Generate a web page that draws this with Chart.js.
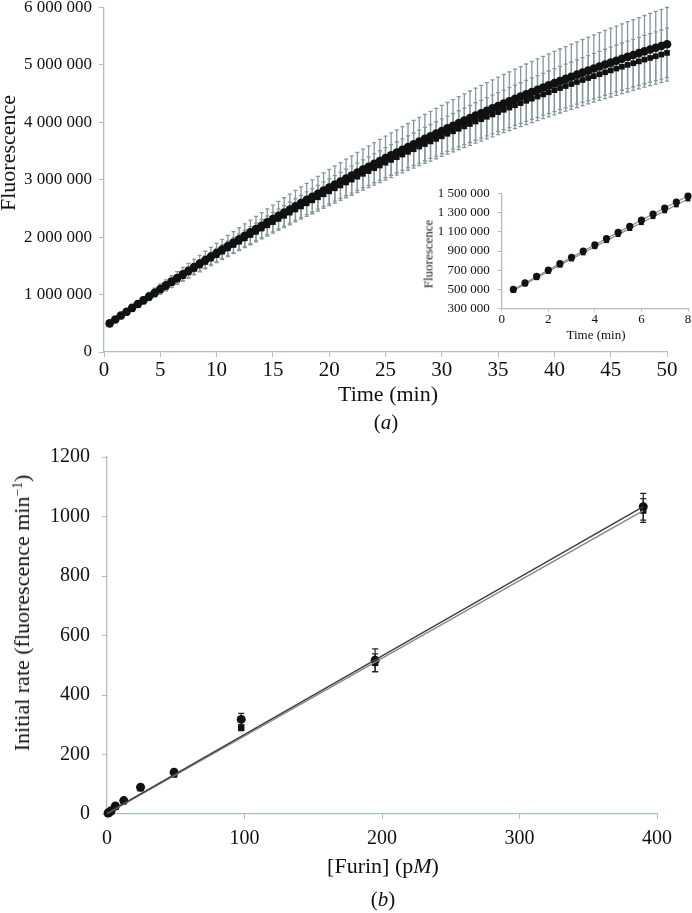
<!DOCTYPE html>
<html>
<head>
<meta charset="utf-8">
<script src="https://cdn.jsdelivr.net/npm/chart.js@4.4.1/dist/chart.umd.min.js"></script>
<style>
  html, body { margin: 0; padding: 0; background: #fff; }
  body { width: 692px; height: 913px; position: relative; overflow: hidden; font-family: "Liberation Serif", "Times New Roman", serif; color: #111; }
  canvas { position: absolute; }
  .lbl { position: absolute; white-space: nowrap; line-height: 1; transform: translate(-50%, -50%); }
  .rot { transform: translate(-50%, -50%) rotate(-90deg); }
  sup { font-size: 0.62em; vertical-align: 0.55em; line-height: 0; }
</style>
</head>
<body>
<canvas id="gaugeMain" width="692" height="410" style="left:0;top:-10px"></canvas>
<canvas id="gaugeInset" width="282" height="170" style="left:410px;top:178px"></canvas>
<canvas id="gaugeRate" width="692" height="483" style="left:0;top:430px"></canvas>

<div class="lbl rot" style="left:8px;top:153px;font-size:22px">Fluorescence</div>
<div class="lbl" style="left:388px;top:394px;font-size:22px">Time (min)</div>
<div class="lbl" style="left:386px;top:422px;font-size:21px">(<i>a</i>)</div>

<div class="lbl rot" style="left:428px;top:254px;font-size:13px">Fluorescence</div>
<div class="lbl" style="left:596px;top:334px;font-size:13px">Time (min)</div>

<div class="lbl rot" style="left:22px;top:613px;font-size:22px">Initial rate (fluorescence min<sup>&minus;1</sup>)</div>
<div class="lbl" style="left:383px;top:866px;font-size:22px">[Furin] (p<i>M</i>)</div>
<div class="lbl" style="left:383px;top:899px;font-size:21px">(<i>b</i>)</div>

<script>
// ---- panel (a): fluorescence vs time, values in thousands ----
var timeMin = [0.5,1,1.5,2,2.5,3,3.5,4,4.5,5,5.5,6,6.5,7,7.5,8,8.5,9,9.5,10,
  10.5,11,11.5,12,12.5,13,13.5,14,14.5,15,15.5,16,16.5,17,17.5,18,18.5,19,19.5,20,
  20.5,21,21.5,22,22.5,23,23.5,24,24.5,25,25.5,26,26.5,27,27.5,28,28.5,29,29.5,30,
  30.5,31,31.5,32,32.5,33,33.5,34,34.5,35,35.5,36,36.5,37,37.5,38,38.5,39,39.5,40,
  40.5,41,41.5,42,42.5,43,43.5,44,44.5,45,45.5,46,46.5,47,47.5,48,48.5,49,49.5,50];

var circleK = [498,566,634,701,768,834,900,966,1031,1096,
  1160,1224,1288,1351,1414,1477,1539,1601,1662,1723,
  1784,1844,1904,1963,2022,2081,2139,2197,2255,2312,
  2369,2425,2481,2537,2592,2647,2701,2755,2809,2862,
  2915,2967,3020,3071,3123,3174,3224,3275,3324,3374,
  3423,3472,3520,3568,3615,3662,3709,3755,3801,3847,
  3892,3937,3982,4026,4069,4113,4155,4198,4240,4282,
  4323,4364,4405,4445,4485,4524,4563,4602,4640,4678,
  4716,4753,4789,4826,4862,4897,4933,4967,5002,5036,
  5069,5103,5136,5168,5200,5232,5263,5294,5325,5355];

var squareK = [487,553,620,685,751,816,880,945,1008,1072,
  1135,1197,1260,1321,1383,1445,1505,1566,1625,1685,
  1745,1803,1862,1919,1977,2035,2091,2148,2204,2260,
  2316,2370,2425,2479,2533,2587,2639,2692,2744,2796,
  2848,2898,2950,2999,3050,3100,3148,3198,3245,3294,
  3342,3389,3436,3482,3528,3574,3619,3664,3708,3753,
  3797,3840,3884,3926,3968,4011,4051,4093,4133,4174,
  4214,4253,4293,4331,4370,4408,4445,4483,4519,4556,
  4593,4628,4663,4698,4733,4767,4801,4834,4867,4900,
  4932,4964,4996,5026,5057,5088,5117,5147,5176,5205];

var circleErrK = [9,18,26,35,44,53,61,70,78,87,
  95,103,112,120,128,136,144,152,160,168,
  176,184,192,199,207,215,222,230,237,245,
  252,259,267,274,281,288,295,302,309,316,
  323,330,337,343,350,357,363,370,376,383,
  389,395,402,408,414,420,426,432,438,444,
  450,456,462,467,473,479,484,490,495,501,
  506,511,517,522,527,532,537,542,547,552,
  557,562,567,571,576,581,585,590,594,599,
  603,608,612,616,620,624,628,632,636,640];

var squareErrK = [6,12,18,24,30,36,42,48,54,60,
  66,71,77,83,88,94,99,105,110,116,
  121,127,132,137,143,148,153,158,163,168,
  173,178,183,188,193,198,203,207,212,217,
  221,226,231,235,240,244,249,253,257,262,
  266,270,274,279,283,287,291,295,299,303,
  307,310,314,318,322,326,329,333,337,340,
  344,347,351,354,357,361,364,367,371,374,
  377,380,383,386,389,392,395,398,401,404,
  406,409,412,415,417,420,422,425,427,430];

var insetCount = 16; // inset shows the first 8 minutes

// ---- panel (b): initial rate vs furin ----
var furinPM = [0.76,1.5,3.0,6.1,12.2,24.4,48.8,97.6,195,390];
var rateCircle = [3,5,11,27,45,90,140,318,517,1033];
var rateSquare = [2,5,9,24,43,87,133,290,508,1020];
var rateCircleErr = [1,1,2,3,3,6,10,20,38,45];
var rateSquareErr = [1,1,1,2,2,4,8,10,30,40];
var fitX = [0,390];
var fitCircle = [3,1033];
var fitSquare = [1,1020];

var axisColor = '#aebfbf';
var serif = 'Liberation Serif';

function spaced(v) { return String(v).replace(/\B(?=(\d{3})+(?!\d))/g, ' '); }
function pairs(xs, ys, k) { return xs.map(function (x, i) { return {x: x, y: ys[i] * k}; }); }

const errorBars = {
  id: 'errorBars',
  beforeDatasetsDraw(chart) {
    const ctx = chart.ctx;
    chart.data.datasets.forEach(function (ds, i) {
      if (!ds.errors) return;
      const meta = chart.getDatasetMeta(i);
      const yScale = chart.scales[meta.yAxisID];
      ctx.save();
      ctx.strokeStyle = ds.errorColor;
      ctx.lineWidth = ds.errorWidth;
      meta.data.forEach(function (pt, j) {
        const v = ds.data[j].y, e = ds.errors[j];
        const top = yScale.getPixelForValue(v + e);
        const bot = yScale.getPixelForValue(v - e);
        const c = ds.capHalf;
        ctx.beginPath();
        ctx.moveTo(pt.x, top); ctx.lineTo(pt.x, bot);
        ctx.moveTo(pt.x - c, top); ctx.lineTo(pt.x + c, top);
        ctx.moveTo(pt.x - c, bot); ctx.lineTo(pt.x + c, bot);
        ctx.stroke();
      });
      ctx.restore();
    });
  }
};

function axis(opts) {
  return {
    type: 'linear',
    min: opts.min, max: opts.max,
    ticks: { stepSize: opts.step, color: '#111', padding: opts.pad, font: {family: serif, size: opts.size}, callback: opts.fmt || undefined },
    grid: { drawOnChartArea: false, tickLength: opts.tick, color: axisColor, lineWidth: 1 },
    border: { color: axisColor, width: 1.3 },
    afterFit: opts.fit
  };
}

const baseOptions = {
  responsive: false,
  animation: false,
  plugins: { legend: { display: false }, tooltip: { enabled: false } }
};

// panel (a) main
new Chart(document.getElementById('gaugeMain'), {
  type: 'scatter',
  data: {
    datasets: [{
      data: pairs(timeMin, circleK, 1000),
      errors: circleErrK.map(function (e) { return e * 1000; }),
      errorColor: '#85979a', errorWidth: 1.3, capHalf: 2,
      showLine: true, borderColor: '#a0a0a0', borderWidth: 1,
      pointStyle: 'circle', pointRadius: 4.3, pointBackgroundColor: '#111', pointBorderColor: '#111', pointBorderWidth: 0,
      clip: false
    }, {
      data: pairs(timeMin, squareK, 1000),
      errors: squareErrK.map(function (e) { return e * 1000; }),
      errorColor: '#85979a', errorWidth: 1.3, capHalf: 2,
      showLine: true, borderColor: '#a0a0a0', borderWidth: 1,
      pointStyle: 'rect', pointRadius: 4, pointBackgroundColor: '#111', pointBorderColor: '#111', pointBorderWidth: 0,
      clip: false
    }]
  },
  options: Object.assign({}, baseOptions, {
    layout: { padding: { top: 16, right: 25, bottom: 0, left: 0 } },
    scales: {
      x: axis({min: 0, max: 50, step: 5, size: 21, pad: 1, tick: 5, fit: function (s) { s.height = 48; }}),
      y: axis({min: 0, max: 6000000, step: 1000000, size: 17, pad: 7, tick: 5, fmt: spaced, fit: function (s) { s.width = 104; }})
    }
  }),
  plugins: [errorBars]
});

// panel (a) inset
new Chart(document.getElementById('gaugeInset'), {
  type: 'scatter',
  data: {
    datasets: [{
      data: pairs(timeMin.slice(0, insetCount), circleK.slice(0, insetCount), 1000),
      showLine: true, borderColor: '#8a8a8a', borderWidth: 1.2,
      pointStyle: 'circle', pointRadius: 3.6, pointBackgroundColor: '#111', pointBorderColor: '#111', pointBorderWidth: 0,
      clip: false
    }, {
      data: pairs(timeMin.slice(0, insetCount), squareK.slice(0, insetCount), 1000),
      showLine: true, borderColor: '#8a8a8a', borderWidth: 1.2,
      pointStyle: 'rect', pointRadius: 3.4, pointBackgroundColor: '#111', pointBorderColor: '#111', pointBorderWidth: 0,
      clip: false
    }]
  },
  options: Object.assign({}, baseOptions, {
    layout: { padding: { top: 12, right: 4, bottom: 0, left: 0 } },
    scales: {
      x: axis({min: 0, max: 8, step: 2, size: 13, pad: 0, tick: 3, fit: function (s) { s.height = 39.7; }}),
      y: axis({min: 300000, max: 1500000, step: 200000, size: 13, pad: 8, tick: 4, fmt: spaced, fit: function (s) { s.width = 91.7; }})
    }
  })
});

// panel (b)
new Chart(document.getElementById('gaugeRate'), {
  type: 'scatter',
  data: {
    datasets: [{
      data: pairs(fitX, fitCircle, 1),
      showLine: true, borderColor: '#3e3e3e', borderWidth: 1.4, pointRadius: 0
    }, {
      data: pairs(fitX, fitSquare, 1),
      showLine: true, borderColor: '#868686', borderWidth: 1.4, pointRadius: 0
    }, {
      data: pairs(furinPM, rateCircle, 1),
      errors: rateCircleErr,
      errorColor: '#222', errorWidth: 1.2, capHalf: 3,
      pointStyle: 'circle', pointRadius: 4.5, pointBackgroundColor: '#111', pointBorderColor: '#111', pointBorderWidth: 0,
      clip: false
    }, {
      data: pairs(furinPM, rateSquare, 1),
      errors: rateSquareErr,
      errorColor: '#222', errorWidth: 1.2, capHalf: 3,
      pointStyle: 'rect', pointRadius: 4.5, pointBackgroundColor: '#111', pointBorderColor: '#111', pointBorderWidth: 0,
      clip: false
    }]
  },
  options: Object.assign({}, baseOptions, {
    layout: { padding: { top: 27, right: 35, bottom: 0, left: 0 } },
    scales: {
      x: axis({min: 0, max: 400, step: 100, size: 20, pad: 8, tick: 5, fit: function (s) { s.height = 99; }}),
      y: axis({min: 0, max: 1200, step: 200, size: 20, pad: 12, tick: 5, fit: function (s) { s.width = 107; }})
    }
  }),
  plugins: [errorBars]
});
</script>
</body>
</html>
